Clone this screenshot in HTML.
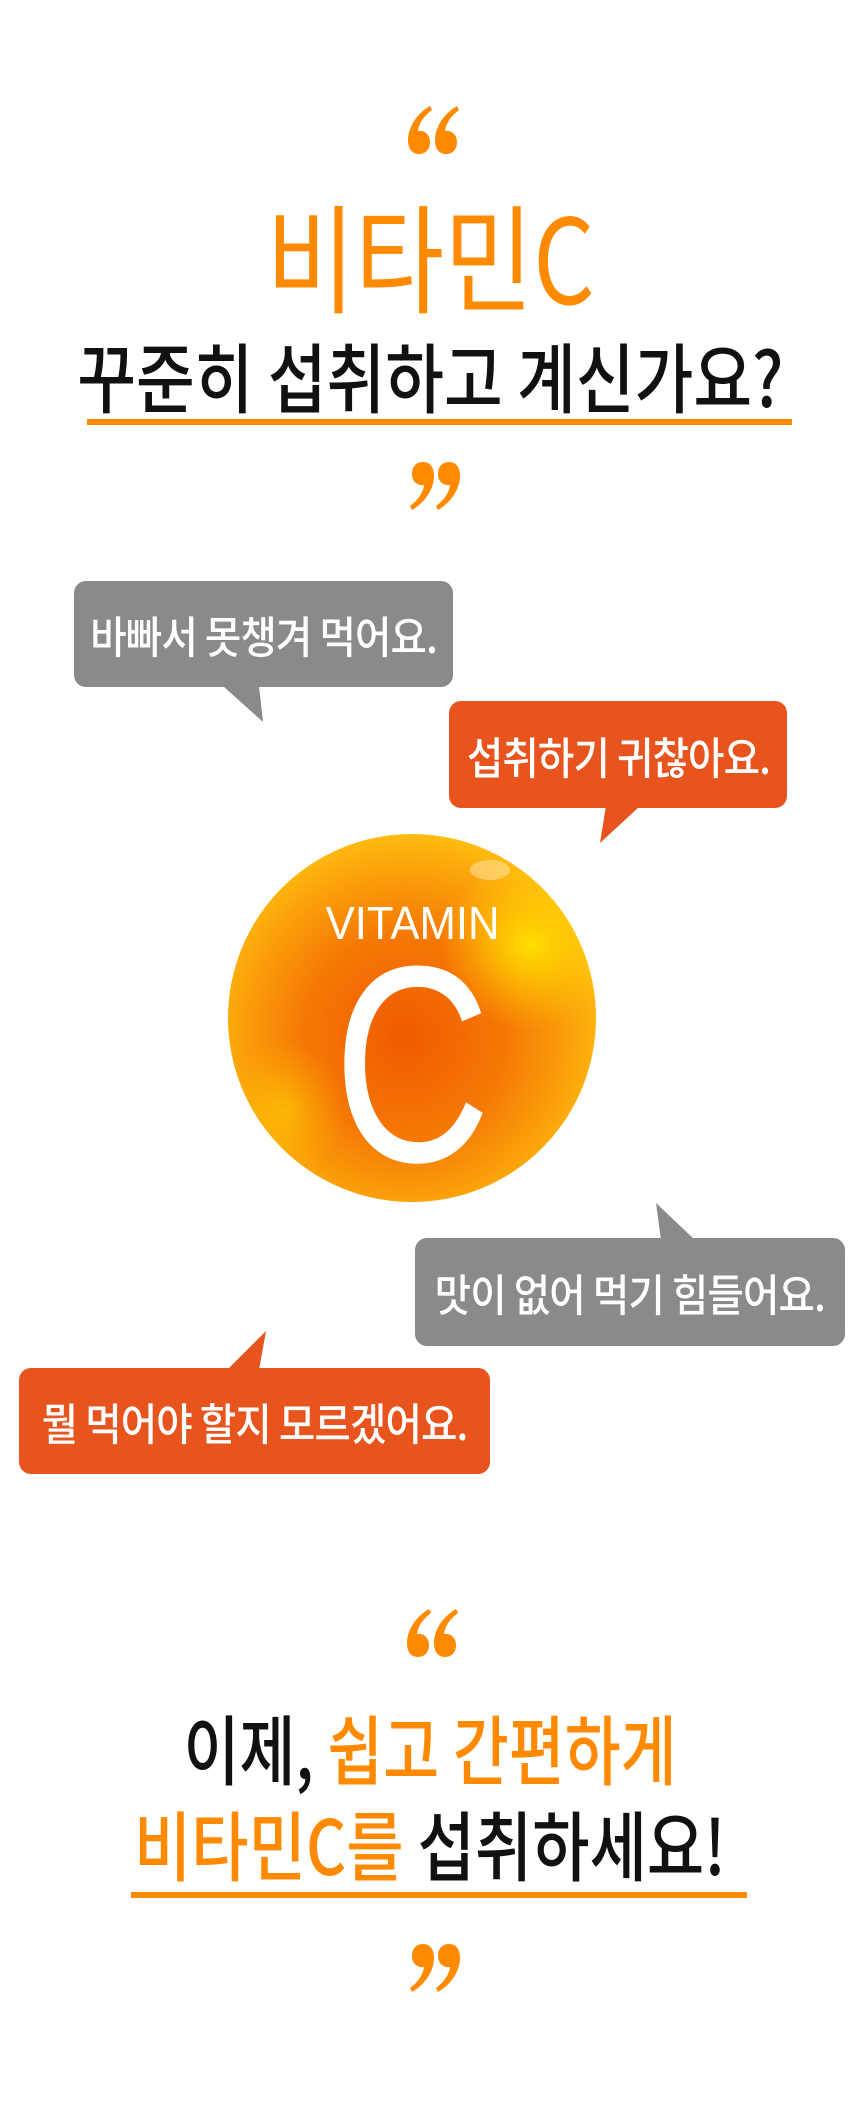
<!DOCTYPE html>
<html><head><meta charset="utf-8"><style>
*{margin:0;padding:0;box-sizing:border-box}
body{width:860px;height:2115px;position:relative;background:#fff;overflow:hidden;font-family:"Liberation Sans","Noto Sans CJK KR",sans-serif}
.t{position:absolute;left:0;width:860px;text-align:center;white-space:nowrap;line-height:1;font-family:"Noto Sans CJK KR","NanumGothic",sans-serif}
.t span.s{display:inline-block;transform-origin:center top}
.o{color:#ff8a00}.k{color:#111}
.bar{position:absolute;height:6px;background:#ff8a00}
.b{position:absolute;border-radius:12px;color:#fff;display:flex;align-items:center;justify-content:center;white-space:nowrap;font-family:"Noto Sans CJK KR",sans-serif;font-size:44px;font-weight:500}
.b span{display:inline-block;transform:scaleX(.9);letter-spacing:-1px}
.g{background:#8a8a8a}.r{background:#e8541e}
svg{position:absolute;left:0;top:0}
</style></head><body>
<svg width="860" height="2115">
<defs>
<g id="oq"><path d="M22 0 C8 8 0 22 0 34 C0 44 5 48 11 48 C17 48 22 44 22 36 C22 28 16 24 10 25 C11 17 16 10 24 4 Z" fill="#ff8a00"/></g>
<g id="cq"><path d="M2 48 C16 40 24 26 24 14 C24 4 19 0 13 0 C7 0 2 4 2 12 C2 20 8 24 14 23 C13 31 8 38 0 44 Z" fill="#ff8a00"/></g>
<radialGradient id="sph" cx="0.48" cy="0.55" r="0.55">
<stop offset="0" stop-color="#f05a00"/><stop offset="0.5" stop-color="#f57805"/><stop offset="0.82" stop-color="#fba10a"/><stop offset="1" stop-color="#ffbb10"/></radialGradient>
<radialGradient id="hl" cx="0.5" cy="0.5" r="0.5"><stop offset="0" stop-color="#ffe600" stop-opacity="0.9"/><stop offset="1" stop-color="#ffd000" stop-opacity="0"/></radialGradient>
<clipPath id="cc"><circle cx="412" cy="1018" r="184"/></clipPath>
</defs>
<use href="#oq" x="408" y="106"/><use href="#oq" x="435" y="106"/>
<use href="#cq" x="410" y="462"/><use href="#cq" x="436" y="462"/>
<use href="#oq" x="407" y="1609"/><use href="#oq" x="434" y="1609"/>
<use href="#cq" x="410" y="1944"/><use href="#cq" x="436" y="1944"/>
<circle cx="412" cy="1018" r="184" fill="url(#sph)"/>
<g clip-path="url(#cc)">
<ellipse cx="530" cy="945" rx="90" ry="85" fill="url(#hl)"/>
<ellipse cx="285" cy="1110" rx="60" ry="70" fill="url(#hl)" opacity="0.5"/>
</g>
<ellipse cx="490" cy="870" rx="20" ry="10" fill="#fff" opacity="0.35"/>
<polygon points="223,686 259,686 263,722" fill="#8a8a8a"/>
<polygon points="606,806 640,806 600,843" fill="#e8541e"/>
<polygon points="661,1240 695,1240 656,1203" fill="#8a8a8a"/>
<polygon points="227,1370 259,1370 266,1331" fill="#e8541e"/>
</svg>
<div class="t o" style="top:194px;font-size:118px;font-weight:400"><span class="s" style="transform:scaleX(.82)">비타민C</span></div>
<div class="t k" style="top:336px;font-size:76px;font-weight:500"><span class="s" style="transform:scaleX(.84)">꾸준히 섭취하고 계신가요?</span></div>
<div class="bar" style="left:87px;top:419px;width:705px"></div>
<div class="b g" style="left:74px;top:581px;width:379px;height:106px"><span>바빠서 못챙겨 먹어요.</span></div>
<div class="b r" style="left:449px;top:701px;width:338px;height:107px"><span>섭취하기 귀찮아요.</span></div>
<div class="b g" style="left:415px;top:1238px;width:430px;height:108px"><span>맛이 없어 먹기 힘들어요.</span></div>
<div class="b r" style="left:19px;top:1368px;width:471px;height:106px"><span>뭘 먹어야 할지 모르겠어요.</span></div>
<div style="position:absolute;left:229px;width:367px;top:900px;text-align:center;color:#fff;font-size:46px;line-height:1;font-family:'Liberation Sans',sans-serif"><span style="display:inline-block;transform:scaleX(.95)">VITAMIN</span></div>
<div style="position:absolute;left:229px;width:367px;top:925px;text-align:center;color:#fff;font-size:280px;line-height:1;font-family:'Liberation Sans',sans-serif"><span style="display:inline-block;transform:scaleX(.78)">C</span></div>
<div class="t k" style="top:1708px;font-size:76px;font-weight:500"><span class="s" style="transform:scaleX(.8)">이제, <span class="o">쉽고 간편하게</span></span></div>
<div class="t k" style="top:1804px;font-size:76px;font-weight:500"><span class="s" style="transform:scaleX(.82)"><span class="o">비타민C를</span> 섭취하세요!</span></div>
<div class="bar" style="left:131px;top:1892px;width:616px"></div>
</body></html>
